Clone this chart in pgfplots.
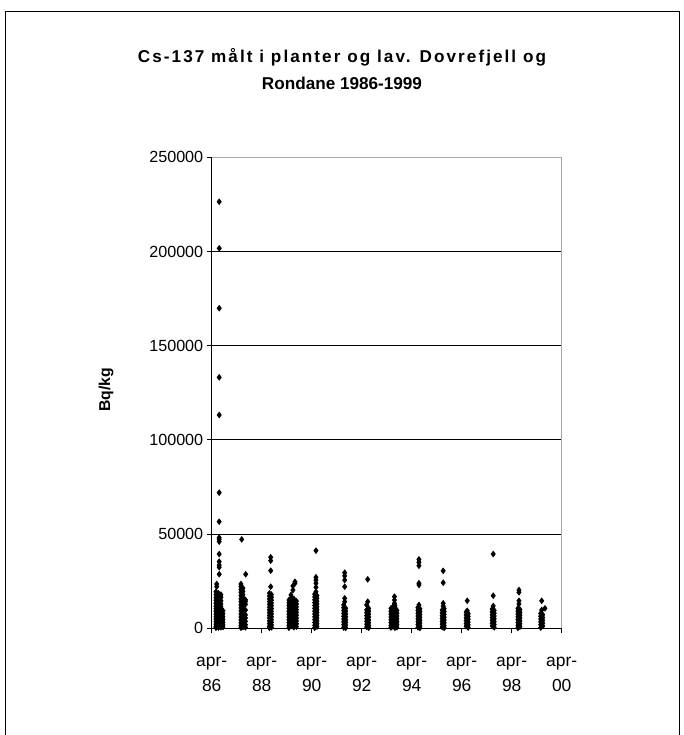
\documentclass[border=0pt]{standalone}
\usepackage{fontspec}
\setmainfont{Liberation Sans}
\usepackage{pgfplots}
\usepackage{pgfplotstable}
\pgfplotsset{compat=1.18}

% Cs-137 (Bq/kg) per sample; x = sampling date in decimal years
\pgfplotstableread{
x y
1986.55 226400
1986.55 201700
1986.55 169900
1986.55 133200
1986.55 113200
1986.55 72000
1986.55 56600
1986.55 48100
1986.55 47200
1986.55 46000
1986.55 39400
1986.55 35400
1986.55 33600
1986.55 32400
1986.55 28700
1986.45 23500
1986.45 22100
1986.42 19400
1986.42 17800
1986.42 16200
1986.42 14900
1986.42 13300
1986.42 11800
1986.42 10400
1986.42 9100
1986.42 7600
1986.42 6200
1986.42 4900
1986.42 3500
1986.42 2200
1986.42 900
1986.42 300
1986.52 18600
1986.52 17100
1986.52 15500
1986.52 14000
1986.52 12600
1986.52 11100
1986.52 9800
1986.52 8300
1986.52 6900
1986.52 5500
1986.52 4100
1986.52 2800
1986.52 1500
1986.52 400
1986.62 17900
1986.62 16500
1986.62 14600
1986.62 12900
1986.62 11400
1986.62 9900
1986.62 8500
1986.62 7100
1986.62 5800
1986.62 4300
1986.62 3000
1986.62 1800
1986.62 600
1986.70 9300
1986.70 7700
1986.70 6100
1986.70 4600
1986.70 3200
1986.70 1900
1986.70 700
1987.45 47200
1987.61 28700
1987.42 23500
1987.42 22100
1987.42 20600
1987.42 19000
1987.42 17300
1987.42 15600
1987.42 14100
1987.42 12400
1987.42 10800
1987.42 9200
1987.42 7600
1987.42 6000
1987.42 4400
1987.42 2900
1987.42 1400
1987.42 300
1987.50 21300
1987.50 19600
1987.50 17900
1987.50 16300
1987.50 14800
1987.50 13200
1987.50 11600
1987.50 10000
1987.50 8400
1987.50 6800
1987.50 5200
1987.50 3600
1987.50 2100
1987.50 700
1987.60 15100
1987.60 14100
1987.60 12700
1987.60 9700
1987.60 7100
1987.60 5500
1987.60 3700
1987.60 1900
1987.60 500
1988.61 37700
1988.61 35900
1988.61 30600
1988.61 22100
1988.56 18600
1988.56 17100
1988.56 15600
1988.56 14200
1988.56 12700
1988.56 11200
1988.56 9800
1988.56 8300
1988.56 6800
1988.56 5400
1988.56 3900
1988.56 2500
1988.56 1100
1988.56 200
1988.64 17900
1988.64 16400
1988.64 14900
1988.64 13400
1988.64 12000
1988.64 10500
1988.64 9000
1988.64 7600
1988.64 6100
1988.64 4600
1988.64 3200
1988.64 1800
1988.64 500
1989.58 24700
1989.58 23900
1989.50 22500
1989.50 20300
1989.42 17700
1989.34 15000
1989.34 13500
1989.34 12000
1989.34 10500
1989.34 9000
1989.34 7500
1989.34 6000
1989.34 4500
1989.34 3000
1989.34 1500
1989.34 300
1989.44 16200
1989.44 14700
1989.44 13200
1989.44 11700
1989.44 10200
1989.44 8700
1989.44 7200
1989.44 5700
1989.44 4200
1989.44 2700
1989.44 1200
1989.54 15600
1989.54 14100
1989.54 12600
1989.54 11100
1989.54 9600
1989.54 8100
1989.54 6600
1989.54 5100
1989.54 3600
1989.54 2100
1989.54 600
1989.64 14400
1989.64 12900
1989.64 11400
1989.64 9900
1989.64 8400
1989.64 6900
1989.64 5400
1989.64 3900
1989.64 2400
1989.64 900
1990.42 41200
1990.42 27100
1990.42 25600
1990.42 23900
1990.42 21800
1990.42 19400
1990.37 18100
1990.37 16600
1990.37 15100
1990.37 13600
1990.37 12100
1990.37 10600
1990.37 9100
1990.37 7600
1990.37 6100
1990.37 4600
1990.37 3100
1990.37 1600
1990.37 300
1990.46 17400
1990.46 15900
1990.46 14400
1990.46 12900
1990.46 11400
1990.46 9900
1990.46 8400
1990.46 6900
1990.46 5400
1990.46 3900
1990.46 2400
1990.46 900
1991.57 29500
1991.57 27800
1991.57 25600
1991.57 22100
1991.57 15900
1991.57 14100
1991.53 12400
1991.53 10900
1991.53 9400
1991.53 7900
1991.53 6400
1991.53 4900
1991.53 3400
1991.53 1900
1991.53 400
1991.61 10600
1991.61 9100
1991.61 7600
1991.61 6100
1991.61 4600
1991.61 3100
1991.61 1600
1991.61 200
1992.49 26000
1992.49 14100
1992.45 12400
1992.45 9700
1992.45 8200
1992.45 6700
1992.45 5200
1992.45 3700
1992.45 2200
1992.45 700
1992.53 10500
1992.53 9000
1992.53 7500
1992.53 6000
1992.53 4500
1992.53 3000
1992.53 1500
1992.53 300
1993.56 16800
1993.56 15000
1993.56 13300
1993.42 10500
1993.42 9000
1993.42 7500
1993.42 6000
1993.42 4500
1993.42 3000
1993.42 1500
1993.42 400
1993.50 11500
1993.50 10000
1993.50 8500
1993.50 7000
1993.50 5500
1993.50 4000
1993.50 2500
1993.50 1000
1993.58 12000
1993.58 10700
1993.58 9200
1993.58 7700
1993.58 6200
1993.58 4700
1993.58 3200
1993.58 1700
1993.58 300
1993.66 9500
1993.66 8000
1993.66 6500
1993.66 5000
1993.66 3500
1993.66 2000
1993.66 600
1994.54 36600
1994.54 35000
1994.54 33200
1994.54 23900
1994.54 23000
1994.54 12400
1994.50 11000
1994.50 9500
1994.50 8000
1994.50 6500
1994.50 5000
1994.50 3500
1994.50 2000
1994.50 500
1994.58 10300
1994.58 8800
1994.58 7300
1994.58 5800
1994.58 4300
1994.58 2800
1994.58 1300
1994.58 200
1995.51 30500
1995.51 24200
1995.51 13300
1995.51 11800
1995.47 9700
1995.47 8200
1995.47 6700
1995.47 5200
1995.47 3700
1995.47 2200
1995.47 700
1995.55 10400
1995.55 8900
1995.55 7400
1995.55 5900
1995.55 4400
1995.55 2900
1995.55 1400
1995.55 200
1996.47 14600
1996.47 9300
1996.43 8600
1996.43 7100
1996.43 5600
1996.43 4100
1996.43 2600
1996.43 1100
1996.51 7800
1996.51 6300
1996.51 4800
1996.51 3300
1996.51 1800
1996.51 400
1997.51 39400
1997.51 17300
1997.51 11800
1997.47 10200
1997.47 8700
1997.47 7200
1997.47 5700
1997.47 4200
1997.47 2700
1997.47 1200
1997.55 9500
1997.55 8000
1997.55 6500
1997.55 5000
1997.55 3500
1997.55 2000
1997.55 500
1998.54 20300
1998.54 19100
1998.54 14600
1998.54 12900
1998.50 10600
1998.50 9100
1998.50 7600
1998.50 6100
1998.50 4600
1998.50 3100
1998.50 1600
1998.50 200
1998.58 9900
1998.58 8400
1998.58 6900
1998.58 5400
1998.58 3900
1998.58 2400
1998.58 900
1999.45 14600
1999.45 9700
1999.58 10600
1999.41 7900
1999.41 6400
1999.41 4900
1999.41 3400
1999.41 1900
1999.41 400
1999.49 7200
1999.49 5700
1999.49 4200
1999.49 2700
1999.49 1200
}\cesium

\begin{document}
\begin{tikzpicture}
\path[use as bounding box] (0bp,0bp) rectangle (684bp,735bp);
% chart frame
\draw[black, line width=0.9bp] (5.5bp,0bp) -- (5.5bp,723.5bp) -- (679.5bp,723.5bp) -- (679.5bp,0bp);
% title
\node[font=\bfseries\fontsize{17.2}{20}\selectfont\addfontfeature{LetterSpace=12}] at (342bp,678bp) {Cs-137 målt i planter og lav. Dovrefjell og};
\node[font=\bfseries\fontsize{17.2}{20}\selectfont] at (342bp,652bp) {Rondane 1986-1999};
% y axis title
\node[rotate=90, font=\bfseries\fontsize{15.8}{18}\selectfont] at (106bp,345bp) {Bq/kg};

\begin{axis}[
  at={(211.7bp,106.7bp)}, anchor=south west,
  scale only axis, width=350bp, height=471bp,
  xmin=1986.25, xmax=2000.25,
  ymin=0, ymax=250000,
  axis x line*=bottom, axis y line*=left,
  axis line style={black, line width=0.9bp},
  xtick={1986.25,1988.25,1990.25,1992.25,1994.25,1996.25,1998.25,2000.25},
  xticklabels={{apr-\\86},{apr-\\88},{apr-\\90},{apr-\\92},{apr-\\94},{apr-\\96},{apr-\\98},{apr-\\00}},
  ytick={0,50000,100000,150000,200000,250000},
  scaled y ticks=false,
  /pgf/number format/.cd, fixed, set thousands separator={}, assume math mode=true,
  /pgfplots/.cd,
  tick align=outside,
  major tick length=5bp,
  tick style={black, line width=0.8bp},
  ymajorgrids,
  grid style={black, line width=0.8bp},
  xticklabel style={align=center, font=\fontsize{17.5}{25}\selectfont, yshift=-20bp},
  yticklabel style={font=\fontsize{16.2}{18}\selectfont},
  clip=false,
]
\addplot[only marks, mark=diamond*, mark size=2.8bp, black, mark options={line width=0.7bp}] table[x=x, y=y] {\cesium};
\draw[gray!70, line width=0.9bp] (rel axis cs:0,1) -- (rel axis cs:1,1) -- (rel axis cs:1,0);
\end{axis}
\end{tikzpicture}
\end{document}
